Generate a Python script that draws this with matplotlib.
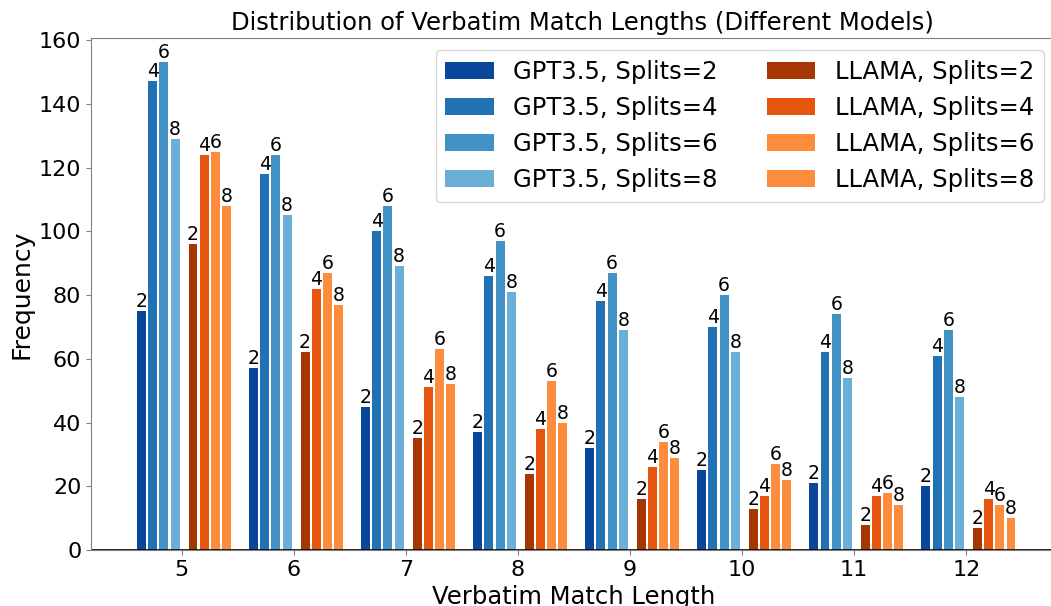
import numpy as np
import matplotlib
matplotlib.use("Agg")
import matplotlib.pyplot as plt

lengths = [5, 6, 7, 8, 9, 10, 11, 12]
splits = [2, 4, 6, 8]

gpt_2 = [75, 57, 45, 37, 32, 25, 21, 20]
gpt_4 = [147, 118, 100, 86, 78, 70, 62, 61]
gpt_6 = [153, 124, 108, 97, 87, 80, 74, 69]
gpt_8 = [129, 105, 89, 81, 69, 62, 54, 48]

llama_2 = [96, 62, 35, 24, 16, 13, 8, 7]
llama_4 = [124, 82, 51, 38, 26, 17, 17, 16]
llama_6 = [125, 87, 63, 53, 34, 27, 18, 14]
llama_8 = [108, 77, 52, 40, 29, 22, 14, 10]

GPT_COLORS = ["#08479a", "#2171b5", "#4292c6", "#6baed6"]
LLAMA_COLORS = ["#a63603", "#e6550d", "#fd8d3c", "#fd8d3c"]

fig = plt.figure(figsize=(10.51, 6.06), dpi=100)
ax = fig.add_axes([0.0866, 0.0924, 0.918, 0.845])

x = np.array(lengths, dtype=float)
w = 0.08
handles_g, handles_l = [], []
for i, (s, vals) in enumerate(zip(splits, [gpt_2, gpt_4, gpt_6, gpt_8])):
    bars = ax.bar(x - 0.36 + i * 0.1, vals, w, color=GPT_COLORS[i],
                  label=f"GPT3.5, Splits={s}")
    handles_g.append(bars)
    for b in bars:
        ax.text(b.get_x() + b.get_width() / 2, b.get_height(), str(s),
                ha="center", va="bottom", fontsize=13.5)
for i, (s, vals) in enumerate(zip(splits, [llama_2, llama_4, llama_6, llama_8])):
    bars = ax.bar(x + 0.10 + i * 0.1, vals, w, color=LLAMA_COLORS[i],
                  label=f"LLAMA, Splits={s}")
    handles_l.append(bars)
    for b in bars:
        ax.text(b.get_x() + b.get_width() / 2, b.get_height(), str(s),
                ha="center", va="bottom", fontsize=13.5)

ax.axhline(0, color="black", lw=1.2)
for side in ["left", "top", "right", "bottom"]:
    ax.spines[side].set_color("#808080")

ax.set_xlim(4.19, 12.80)
ax.set_ylim(0, 160.65)
ax.set_xticks(lengths)
ax.tick_params(axis="both", labelsize=16, color="#808080")
ax.set_xlabel("Verbatim Match Length", fontsize=17.5)
ax.set_ylabel("Frequency", fontsize=18)
ax.set_title("Distribution of Verbatim Match Lengths (Different Models)",
             fontsize=17.5, x=0.509)
ax.legend(handles=handles_g + handles_l, ncol=2, loc="upper right", fontsize=17.5)

fig.savefig("out.png", dpi=100)
